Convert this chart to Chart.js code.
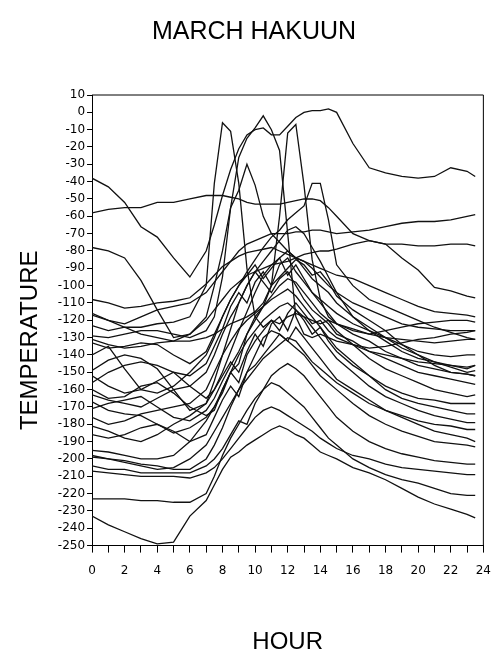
<!DOCTYPE html>
<html>
<head>
<meta charset="utf-8">
<title>March Hakuun</title>
<script src="https://cdn.jsdelivr.net/npm/chart.js@4.4.0/dist/chart.umd.min.js"></script>
<style>
  html, body { margin: 0; padding: 0; background: #fff; }
  #wrap { width: 492px; height: 661px; }
</style>
</head>
<body>
<div id="wrap"><canvas id="hakuun"></canvas></div>
<script>
// hour of day, half-hour steps around midday
const hours = [0, 1, 2, 3, 4, 5, 6, 7, 7.5, 8, 8.5, 9, 9.5, 10, 10.5, 11, 11.5, 12, 12.5, 13, 13.5, 14, 14.5, 15, 16, 17, 18, 19, 20, 21, 22, 23, 23.5];

// one temperature curve per day
const s01 = [-38, -43, -52, -66, -72, -84, -95, -80, -65, -48, -33, -21, -13, -10, -9, -13, -13, -8, -3, 0, 1, 1, 2, 0, -18, -32, -35, -37, -38, -37, -32, -34, -37];
const s02 = [-58, -56, -55, -55, -52, -52, -50, -48, -48, -48, -49, -50, -52, -53, -53, -53, -53, -52, -51, -50, -50, -51, -55, -60, -70, -74, -76, -84, -91, -101, -103, -106, -107];
const s03 = [-78, -80, -84, -97, -114, -130, -128, -120, -114, -108, -102, -98, -94, -92, -90, -88, -87, -86, -84, -82, -81, -80, -80, -79, -76, -74, -76, -76, -77, -77, -76, -76, -77];
const s04 = [-116, -120, -122, -118, -114, -112, -110, -104, -98, -92, -86, -80, -76, -74, -72, -70, -70, -70, -69, -69, -68, -68, -69, -70, -69, -68, -66, -64, -63, -63, -62, -60, -59];
const s05 = [-108, -110, -113, -112, -110, -109, -107, -99, -94, -89, -86, -83, -81, -80, -79, -78, -80, -82, -84, -86, -88, -90, -92, -94, -96, -100, -104, -108, -112, -115, -116, -117, -118];
const s06 = [-117, -120, -124, -124, -122, -121, -118, -100, -41, -6, -11, -41, -90, -118, -124, -120, -122, -118, -116, -118, -120, -122, -120, -122, -125, -128, -126, -124, -122, -121, -120, -120, -121];
const s07 = [-129, -130, -128, -126, -126, -128, -130, -126, -118, -95, -55, -26, -15, -9, -2, -10, -22, -70, -118, -128, -130, -128, -130, -132, -134, -136, -135, -133, -131, -130, -128, -127, -126];
const s08 = [-131, -134, -136, -135, -133, -132, -132, -130, -128, -125, -122, -120, -118, -115, -110, -100, -60, -12, -7, -42, -85, -108, -118, -122, -126, -128, -130, -131, -132, -133, -132, -131, -131];
const s09 = [-133, -136, -135, -133, -134, -140, -145, -138, -128, -118, -108, -100, -92, -85, -78, -72, -68, -62, -58, -54, -41, -41, -62, -88, -100, -108, -112, -116, -120, -124, -127, -130, -131];
const s10 = [-149, -143, -140, -142, -148, -160, -172, -168, -155, -140, -125, -110, -100, -92, -86, -80, -74, -68, -66, -70, -78, -86, -95, -104, -118, -126, -132, -138, -142, -144, -146, -148, -146];
const s11 = [-156, -150, -146, -144, -146, -150, -158, -165, -160, -150, -138, -126, -115, -104, -94, -88, -84, -80, -84, -90, -96, -100, -104, -110, -118, -124, -130, -136, -140, -144, -147, -150, -149];
const s12 = [-160, -165, -164, -158, -156, -162, -170, -175, -172, -160, -150, -145, -128, -118, -112, -100, -95, -90, -85, -88, -94, -92, -98, -106, -114, -120, -126, -134, -140, -146, -150, -151, -152];
const s13 = [-163, -166, -168, -170, -165, -160, -158, -150, -140, -128, -118, -110, -100, -92, -98, -104, -96, -92, -100, -108, -114, -118, -122, -128, -132, -138, -142, -146, -150, -152, -154, -156, -157];
const s14 = [-171, -168, -166, -164, -170, -176, -178, -172, -165, -155, -146, -138, -128, -120, -112, -106, -100, -96, -98, -104, -110, -116, -120, -126, -134, -142, -148, -152, -156, -160, -162, -164, -163];
const s15 = [-176, -180, -178, -174, -172, -170, -168, -160, -150, -140, -132, -125, -120, -116, -112, -108, -105, -102, -106, -112, -118, -124, -130, -136, -144, -152, -158, -162, -165, -166, -168, -168, -168];
const s16 = [-181, -184, -188, -190, -186, -180, -175, -168, -160, -152, -144, -150, -138, -128, -135, -122, -118, -126, -114, -120, -128, -124, -132, -138, -146, -152, -160, -165, -168, -170, -172, -174, -174];
const s17 = [-195, -196, -198, -200, -200, -198, -190, -178, -170, -160, -150, -140, -132, -126, -120, -116, -112, -110, -114, -118, -124, -130, -136, -142, -150, -158, -164, -168, -172, -175, -177, -179, -179];
const s18 = [-198, -200, -202, -204, -206, -205, -200, -192, -184, -176, -168, -160, -154, -148, -142, -138, -134, -130, -132, -138, -144, -148, -152, -156, -162, -168, -172, -175, -178, -180, -181, -183, -183];
const s19 = [-199, -200, -201, -203, -204, -206, -206, -200, -192, -182, -170, -160, -150, -140, -130, -126, -128, -132, -136, -140, -146, -152, -156, -160, -168, -175, -180, -184, -187, -190, -191, -192, -193];
const s20 = [-204, -206, -206, -208, -208, -208, -208, -204, -200, -194, -186, -178, -180, -168, -160, -152, -148, -145, -148, -152, -158, -164, -170, -176, -184, -190, -194, -197, -199, -201, -202, -203, -203];
const s21 = [-207, -208, -209, -210, -210, -210, -211, -208, -205, -200, -194, -188, -182, -176, -172, -170, -172, -175, -178, -181, -184, -188, -191, -194, -198, -200, -203, -205, -206, -207, -208, -209, -209];
const s22 = [-223, -223, -223, -224, -224, -225, -225, -220, -210, -198, -188, -180, -172, -165, -160, -156, -158, -162, -166, -170, -176, -182, -188, -192, -200, -205, -209, -212, -214, -217, -220, -221, -221];
const s23 = [-233, -238, -242, -246, -249, -248, -233, -224, -215, -206, -199, -196, -192, -189, -186, -183, -181, -183, -186, -188, -192, -196, -198, -200, -205, -208, -212, -217, -222, -226, -229, -232, -234];
const s24 = [-123, -126, -124, -128, -130, -132, -128, -118, -100, -80, -55, -45, -30, -42, -60, -70, -75, -80, -84, -86, -90, -95, -100, -104, -110, -114, -118, -122, -124, -125, -126, -126, -126];
const s25 = [-152, -158, -162, -160, -155, -150, -152, -145, -135, -125, -112, -104, -110, -98, -92, -100, -88, -84, -92, -98, -104, -108, -112, -116, -122, -126, -130, -134, -138, -140, -141, -140, -140];
const s26 = [-167, -172, -174, -175, -180, -185, -182, -176, -170, -162, -150, -156, -140, -132, -126, -120, -126, -116, -110, -116, -122, -120, -126, -130, -134, -138, -140, -142, -144, -145, -146, -147, -146];
const s27 = [-140, -135, -148, -160, -162, -158, -150, -140, -130, -118, -108, -100, -94, -88, -96, -90, -84, -94, -88, -96, -104, -110, -116, -122, -128, -132, -138, -142, -146, -148, -150, -151, -152];
const s28 = [-186, -188, -186, -182, -180, -184, -190, -186, -176, -166, -158, -164, -150, -146, -140, -134, -128, -132, -124, -130, -136, -142, -148, -154, -160, -166, -172, -176, -180, -184, -186, -188, -190];

const days = [s01, s02, s03, s04, s05, s06, s07, s08, s09, s10, s11, s12, s13, s14,
              s15, s16, s17, s18, s19, s20, s21, s22, s23, s24, s25, s26, s27, s28];

// top and right edges of the plot box
const frame = {
  id: 'frame',
  beforeDatasetsDraw(chart) {
    const { ctx, chartArea } = chart;
    ctx.save();
    ctx.strokeStyle = '#000';
    ctx.lineWidth = 1;
    ctx.beginPath();
    ctx.moveTo(chartArea.left, chartArea.top);
    ctx.lineTo(chartArea.right, chartArea.top);
    ctx.lineTo(chartArea.right, chartArea.bottom);
    ctx.stroke();
    ctx.restore();
  }
};

Chart.defaults.color = '#000';
Chart.defaults.font.family = "'Liberation Sans', Arial, sans-serif";

new Chart(document.getElementById('hakuun'), {
  type: 'line',
  data: {
    datasets: days.map((temps, i) => ({
      label: 'day ' + (i + 1),
      data: temps.map((t, j) => ({ x: hours[j], y: t })),
      borderColor: '#111',
      borderWidth: 1.3,
      pointRadius: 0,
      tension: 0,
      fill: false
    }))
  },
  options: {
    responsive: true,
    maintainAspectRatio: false,
    animation: false,
    layout: { padding: { left: 16, right: 0, top: 0, bottom: 0 } },
    plugins: {
      legend: { display: false },
      tooltip: { enabled: false },
      title: {
        display: true,
        text: 'MARCH HAKUUN',
        font: { size: 25, weight: 'normal' },
        padding: { top: 17, bottom: 48 }
      }
    },
    scales: {
      x: {
        type: 'linear',
        min: 0,
        max: 24,
        border: { color: '#000', width: 1 },
        grid: { drawOnChartArea: false, tickLength: 7, color: '#000' },
        ticks: {
          stepSize: 1,
          autoSkip: false,
          maxRotation: 0,
          padding: 1,
          // tall line box drops the hour labels well below the axis
          font: { family: "'DejaVu Sans', sans-serif", size: 12, lineHeight: 2.8 },
          callback: v => (v % 2 === 0 ? v : '')
        },
        title: {
          display: true,
          text: 'HOUR',
          font: { size: 24, weight: 'normal' },
          padding: { top: 40, bottom: 4 }
        }
      },
      y: {
        min: -250,
        max: 10,
        border: { color: '#000', width: 1 },
        grid: { drawOnChartArea: false, tickLength: 5, color: '#000' },
        ticks: {
          stepSize: 10,
          autoSkip: false,
          padding: 2,
          font: { family: "'DejaVu Sans', sans-serif", size: 12 }
        },
        title: {
          display: true,
          // trailing spaces push the label a little below the axis centre, as in the original
          text: 'TEMPERATURE      ',
          font: { size: 24, weight: 'normal' },
          padding: { top: 0, bottom: 11 }
        }
      }
    }
  },
  plugins: [frame]
});
</script>
</body>
</html>
